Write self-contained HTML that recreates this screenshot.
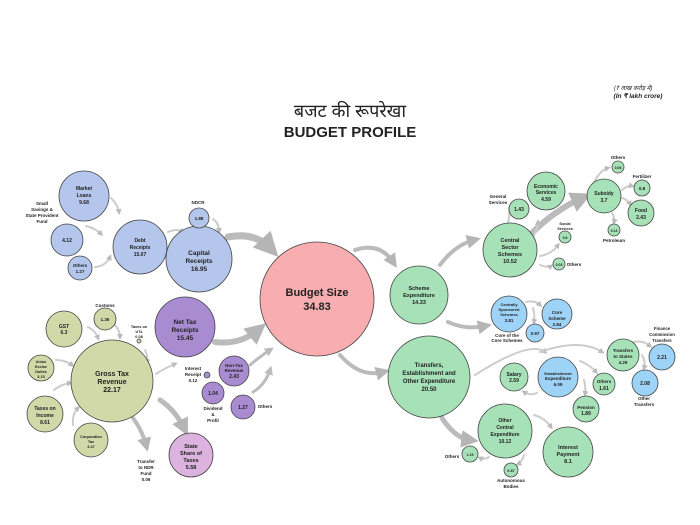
<!DOCTYPE html>
<html><head><meta charset="utf-8"><style>
html,body{margin:0;padding:0;background:#fff;width:700px;height:525px;overflow:hidden}
svg text{font-family:"Liberation Sans",sans-serif;font-weight:bold;fill:#222;text-anchor:middle}
</style></head><body>
<svg width="700" height="525" viewBox="0 0 700 525" xmlns="http://www.w3.org/2000/svg">
<defs>
<marker id="a" viewBox="0 0 10 10" refX="5" refY="5" markerWidth="3" markerHeight="3" orient="auto"><path d="M0,0L10,5L0,10z" fill="#bbb"/></marker>
<marker id="b" viewBox="0 0 10 10" refX="5" refY="5" markerWidth="3.5" markerHeight="3.5" orient="auto"><path d="M0,0L10,5L0,10z" fill="#b5b5b5"/></marker>
</defs>
<!-- title -->
<text x="350" y="117" style="font-family:'Liberation Sans','Noto Sans CJK SC',sans-serif;font-weight:normal" font-size="18">बजट की रूपरेखा</text>
<text x="350" y="137" font-size="15">BUDGET PROFILE</text>
<text x="633" y="90" font-size="6" style="font-style:italic;font-weight:normal">(₹ लाख करोड़ में)</text>
<text x="638" y="98" font-size="6.5" style="font-style:italic">(In ₹ lakh crore)</text>

<!-- thick arrows -->
<g fill="none" stroke="#bbb" stroke-linecap="round">
<path d="M228,237 Q255,232 270,248" stroke-width="7" marker-end="url(#b)"/>
<path d="M215,342 Q240,345 258,330" stroke-width="6" marker-end="url(#b)"/>
<path d="M250,365 Q262,355 270,350" stroke-width="3" marker-end="url(#a)"/>
<path d="M253,392 Q265,385 270,370" stroke-width="3" marker-end="url(#a)"/>
<path d="M355,250 Q380,242 393,262" stroke-width="4" marker-end="url(#b)"/>
<path d="M340,355 Q360,378 383,372" stroke-width="4" marker-end="url(#b)"/>
<path d="M440,265 Q455,245 474,240" stroke-width="4" marker-end="url(#b)"/>
<path d="M448,322 Q465,330 485,326" stroke-width="4" marker-end="url(#b)"/>
<path d="M532,233 Q555,210 582,198" stroke-width="6" marker-end="url(#b)"/>
<path d="M442,418 Q455,438 470,440" stroke-width="5" marker-end="url(#b)"/>
<path d="M160,400 Q175,410 184,428" stroke-width="5" marker-end="url(#b)"/>
<path d="M133,418 Q142,430 146,445" stroke-width="4" marker-end="url(#b)"/>
</g>
<g fill="none" stroke="#ccc" stroke-width="2" stroke-linecap="round">
<path d="M111,198 Q118,205 119,212" marker-end="url(#a)"/>
<path d="M86,226 Q95,228 101,234" marker-end="url(#a)"/>
<path d="M95,267 Q106,266 110,257" marker-end="url(#a)"/>
<path d="M168,232 Q178,228 182,232" marker-end="url(#a)"/>
<path d="M213,219 Q219,223 219,231" marker-end="url(#a)"/>
<path d="M88,327 Q95,330 98,338" marker-end="url(#a)"/>
<path d="M114,324 Q120,330 120,337" marker-end="url(#a)"/>
<path d="M56,360 Q65,360 72,365" marker-end="url(#a)"/>
<path d="M54,390 Q62,384 70,383" marker-end="url(#a)"/>
<path d="M73,425 Q72,414 78,408" marker-end="url(#a)"/>
<path d="M145,350 Q148,356 147,362" marker-end="url(#a)"/>
<path d="M156,374 Q165,368 175,364" marker-end="url(#a)"/>
<path d="M508,223 Q510,214 509,208"/>
<path d="M533,237 Q538,228 538,222" marker-end="url(#a)"/>
<path d="M540,256 Q552,254 558,245" marker-end="url(#a)"/>
<path d="M540,265 Q548,268 551,266" marker-end="url(#a)"/>
<path d="M593,184 Q600,170 608,168" marker-end="url(#a)"/>
<path d="M622,190 Q628,185 632,186" marker-end="url(#a)"/>
<path d="M622,198 Q628,200 630,204" marker-end="url(#a)"/>
<path d="M612,213 Q615,218 614,222" marker-end="url(#a)"/>
<path d="M526,302 Q535,300 540,305" marker-end="url(#a)"/>
<path d="M533,308 Q535,315 534,322" marker-end="url(#a)"/>
<path d="M475,375 Q530,340 545,352" marker-end="url(#a)"/>
<path d="M540,352 Q580,338 602,352" marker-end="url(#a)"/>
<path d="M580,361 Q590,365 596,372" marker-end="url(#a)"/>
<path d="M584,380 Q586,388 585,394" marker-end="url(#a)"/>
<path d="M537,393 Q530,396 524,392" marker-end="url(#a)"/>
<path d="M634,342 Q643,340 650,346" marker-end="url(#a)"/>
<path d="M642,355 Q646,362 644,368" marker-end="url(#a)"/>
<path d="M534,415 Q545,418 551,427" marker-end="url(#a)"/>
<path d="M489,457 Q484,460 480,458" marker-end="url(#a)"/>
<path d="M524,455 Q522,462 518,464" marker-end="url(#a)"/>
</g>

<!-- circles -->
<g stroke="#444" stroke-width="0.8">
<circle cx="317" cy="299" r="57" fill="#f8aeb0"/>
<circle cx="199" cy="259" r="33" fill="#b4c6ec"/>
<circle cx="140" cy="247" r="27" fill="#b4c6ec"/>
<circle cx="84" cy="196" r="25" fill="#b4c6ec"/>
<circle cx="67" cy="240" r="16" fill="#b4c6ec"/>
<circle cx="80" cy="268" r="12" fill="#b4c6ec"/>
<circle cx="199" cy="218" r="10" fill="#b4c6ec"/>
<circle cx="185" cy="327" r="30" fill="#a98bd2"/>
<circle cx="234" cy="371" r="15" fill="#a98bd2"/>
<circle cx="207" cy="375" r="3" fill="#a98bd2"/>
<circle cx="213" cy="393" r="11" fill="#a98bd2"/>
<circle cx="243" cy="407" r="12" fill="#a98bd2"/>
<circle cx="112" cy="381" r="41" fill="#d2d9a9"/>
<circle cx="105" cy="319" r="11" fill="#d2d9a9"/>
<circle cx="64" cy="329" r="18" fill="#d2d9a9"/>
<circle cx="41" cy="368" r="13" fill="#d2d9a9"/>
<circle cx="45" cy="414" r="18" fill="#d2d9a9"/>
<circle cx="91" cy="440" r="17" fill="#d2d9a9"/>
<circle cx="139" cy="341" r="2" fill="#d2d9a9"/>
<circle cx="191" cy="455" r="22" fill="#dcb2de"/>
<circle cx="419" cy="295" r="29" fill="#a6e1b8"/>
<circle cx="510" cy="250" r="27" fill="#a6e1b8"/>
<circle cx="519" cy="209" r="10" fill="#a6e1b8"/>
<circle cx="546" cy="191" r="19" fill="#a6e1b8"/>
<circle cx="565" cy="237" r="6" fill="#a6e1b8"/>
<circle cx="559" cy="264" r="6" fill="#a6e1b8"/>
<circle cx="604" cy="196" r="17" fill="#a6e1b8"/>
<circle cx="618" cy="167" r="6" fill="#a6e1b8"/>
<circle cx="642" cy="188" r="8" fill="#a6e1b8"/>
<circle cx="641" cy="213" r="13" fill="#a6e1b8"/>
<circle cx="614" cy="230" r="6" fill="#a6e1b8"/>
<circle cx="509" cy="314" r="18" fill="#9dd3f6"/>
<circle cx="557" cy="314" r="15" fill="#9dd3f6"/>
<circle cx="535" cy="333" r="9" fill="#9dd3f6"/>
<circle cx="429" cy="377" r="41" fill="#a6e1b8"/>
<circle cx="514" cy="377" r="14" fill="#a6e1b8"/>
<circle cx="558" cy="377" r="20" fill="#9dd3f6"/>
<circle cx="604" cy="384" r="11" fill="#a6e1b8"/>
<circle cx="586" cy="409" r="13" fill="#a6e1b8"/>
<circle cx="623" cy="355" r="16" fill="#a6e1b8"/>
<circle cx="662" cy="357" r="13" fill="#9dd3f6"/>
<circle cx="645" cy="383" r="13" fill="#9dd3f6"/>
<circle cx="505" cy="431" r="27" fill="#a6e1b8"/>
<circle cx="568" cy="452" r="25" fill="#a6e1b8"/>
<circle cx="470" cy="454" r="8" fill="#a6e1b8"/>
<circle cx="511" cy="470" r="7" fill="#a6e1b8"/>
</g>

<!-- labels -->
<g font-size="5">
<text x="317" y="296" font-size="11">Budget Size</text>
<text x="317" y="310" font-size="11">34.83</text>
<text x="199" y="255" font-size="6.5">Capital</text><text x="199" y="263" font-size="6.5">Receipts</text><text x="199" y="271" font-size="6.5">16.95</text>
<text x="140" y="242">Debt</text><text x="140" y="249">Receipts</text><text x="140" y="256">15.07</text>
<text x="84" y="190">Market</text><text x="84" y="197">Loans</text><text x="84" y="204">9.68</text>
<text x="67" y="242">4.12</text>
<text x="80" y="267" font-size="4.5">Others</text><text x="80" y="273" font-size="4.5">1.27</text>
<text x="199" y="220" font-size="4.5">1.88</text>
<text x="198" y="204" font-size="4.5">NDCR</text>
<text x="42" y="205" font-size="4.5">Small</text><text x="42" y="211" font-size="4.5">Savings &amp;</text><text x="42" y="217" font-size="4.5">State Provident</text><text x="42" y="223" font-size="4.5">Fund</text>
<text x="185" y="324" font-size="6.5">Net Tax</text><text x="185" y="332" font-size="6.5">Receipts</text><text x="185" y="340" font-size="6.5">15.45</text>
<text x="234" y="367" font-size="4.5">Non-Tax</text><text x="234" y="372" font-size="4.5">Revenue</text><text x="234" y="378">2.43</text>
<text x="193" y="370" font-size="4.5">Interest</text><text x="193" y="376" font-size="4.5">Receipt</text><text x="193" y="382" font-size="4.5">0.12</text>
<text x="213" y="395">1.04</text>
<text x="243" y="409">1.27</text>
<text x="265" y="408" font-size="4.5">Others</text>
<text x="213" y="410" font-size="4.5">Dividend</text><text x="213" y="416" font-size="4.5">&amp;</text><text x="213" y="422" font-size="4.5">Profit</text>
<text x="112" y="376" font-size="7">Gross Tax</text><text x="112" y="384" font-size="7">Revenue</text><text x="112" y="392" font-size="7">22.17</text>
<text x="105" y="307" font-size="4.5">Customs</text><text x="105" y="321" font-size="4.5">1.36</text>
<text x="64" y="328">GST</text><text x="64" y="334">6.3</text>
<text x="41" y="363" font-size="3.8">Union</text><text x="41" y="368" font-size="3.8">Excise</text><text x="41" y="373" font-size="3.8">Duties</text><text x="41" y="378" font-size="3.8">3.15</text>
<text x="45" y="410">Taxes on</text><text x="45" y="417">Income</text><text x="45" y="424">8.61</text>
<text x="91" y="438" font-size="3.8">Corporation</text><text x="91" y="443" font-size="3.8">Tax</text><text x="91" y="448" font-size="3.8">3.47</text>
<text x="139" y="328" font-size="3.8">Taxes on</text><text x="139" y="333" font-size="3.8">UTs</text><text x="139" y="338" font-size="3.8">0.08</text>
<text x="146" y="463" font-size="4.5">Transfer</text><text x="146" y="469" font-size="4.5">to NDR</text><text x="146" y="475" font-size="4.5">Fund</text><text x="146" y="481" font-size="4.5">0.06</text>
<text x="191" y="448" font-size="5.5">State</text><text x="191" y="455" font-size="5.5">Share of</text><text x="191" y="462" font-size="5.5">Taxes</text><text x="191" y="469" font-size="5.5">5.58</text>
<text x="419" y="290" font-size="5.5">Scheme</text><text x="419" y="297" font-size="5.5">Expenditure</text><text x="419" y="304" font-size="5.5">14.33</text>
<text x="510" y="242" font-size="5.5">Central</text><text x="510" y="249" font-size="5.5">Sector</text><text x="510" y="256" font-size="5.5">Schemes</text><text x="510" y="263" font-size="5.5">10.52</text>
<text x="519" y="211">1.43</text>
<text x="498" y="198" font-size="4.5">General</text><text x="498" y="204" font-size="4.5">Services</text>
<text x="546" y="188">Economic</text><text x="546" y="194">Services</text><text x="546" y="201">4.59</text>
<text x="565" y="225" font-size="3.8">Social</text><text x="565" y="230" font-size="3.8">Services</text><text x="565" y="239" font-size="3.5">0.6</text>
<text x="559" y="266" font-size="3.5">0.03</text><text x="574" y="266" font-size="4.5">Others</text>
<text x="604" y="195">Subsidy</text><text x="604" y="202">3.7</text>
<text x="618" y="159" font-size="4.5">Others</text><text x="618" y="169" font-size="3.5">0.06</text>
<text x="642" y="178" font-size="4.5">Fertilizer</text><text x="642" y="190" font-size="4.5">0.8</text>
<text x="641" y="212">Food</text><text x="641" y="219">2.43</text>
<text x="614" y="232" font-size="3.5">0.13</text><text x="614" y="242" font-size="4.5">Petroleum</text>
<text x="509" y="306" font-size="4">Centrally</text><text x="509" y="311" font-size="4">Sponsored</text><text x="509" y="316" font-size="4">Schemes</text><text x="509" y="322" font-size="4.5">3.81</text>
<text x="557" y="314" font-size="4.5">Core</text><text x="557" y="320" font-size="4.5">Scheme</text><text x="557" y="326" font-size="4.5">2.84</text>
<text x="535" y="335" font-size="4.5">0.97</text>
<text x="507" y="337" font-size="4.5">Core of the</text><text x="507" y="342" font-size="4.5">Core Schemes</text>
<text x="429" y="367" font-size="6">Transfers,</text><text x="429" y="375" font-size="6">Establishment and</text><text x="429" y="383" font-size="6">Other Expenditure</text><text x="429" y="391" font-size="6">20.50</text>
<text x="514" y="376">Salary</text><text x="514" y="382">2.59</text>
<text x="558" y="375" font-size="4">Establishment</text><text x="558" y="380" font-size="4.5">Expenditure</text><text x="558" y="386" font-size="4.5">6.09</text>
<text x="604" y="383" font-size="4.5">Others</text><text x="604" y="390">1.61</text>
<text x="586" y="409" font-size="4.5">Pension</text><text x="586" y="415">1.89</text>
<text x="623" y="352" font-size="4.5">Transfers</text><text x="623" y="358" font-size="4.5">to States</text><text x="623" y="364" font-size="4.5">4.29</text>
<text x="662" y="359">2.21</text>
<text x="662" y="330" font-size="4.3">Finance</text><text x="662" y="336" font-size="4.3">Commission</text><text x="662" y="342" font-size="4.3">Transfers</text>
<text x="645" y="385">2.08</text>
<text x="644" y="400" font-size="4.5">Other</text><text x="644" y="406" font-size="4.5">Transfers</text>
<text x="505" y="422" font-size="5">Other</text><text x="505" y="429" font-size="5">Central</text><text x="505" y="436" font-size="5">Expenditure</text><text x="505" y="443" font-size="5">10.12</text>
<text x="568" y="449" font-size="5.5">Interest</text><text x="568" y="456" font-size="5.5">Payment</text><text x="568" y="463" font-size="5.5">8.1</text>
<text x="470" y="456" font-size="3.5">1.15</text><text x="452" y="458" font-size="4.5">Others</text>
<text x="511" y="472" font-size="3.8">0.87</text>
<text x="511" y="482" font-size="4.5">Autonomous</text><text x="511" y="488" font-size="4.5">Bodies</text>
</g>
</svg>
</body></html>
